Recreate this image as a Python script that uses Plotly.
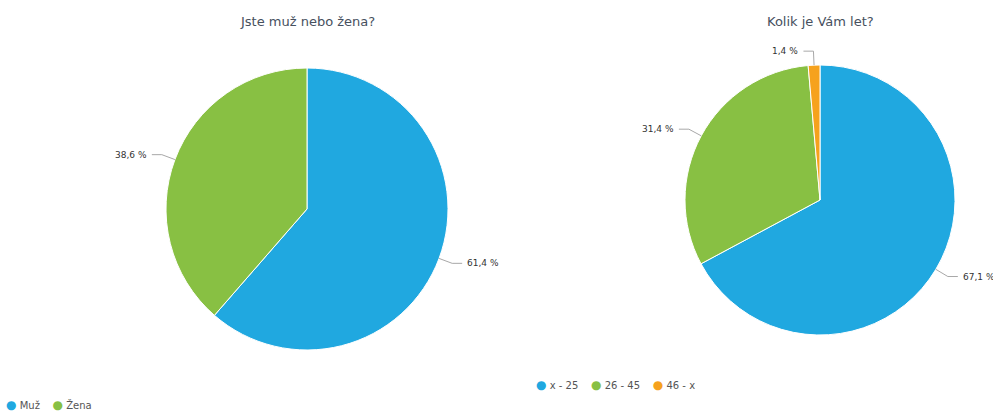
import math
import plotly.graph_objects as go

W, H = 993, 412

pie1_title = "Jste muž nebo žena?"
pie1_labels = ["Muž", "Žena"]
pie1_values = [61.4, 38.6]

pie2_title = "Kolik je Vám let?"
pie2_labels = ["x - 25", "26 - 45", "46 - x"]
pie2_values = [67.1, 31.4, 1.4]

colors1 = ["#20a8e0", "#88c043"]
colors2 = ["#20a8e0", "#88c043", "#f6a21d"]

# layout geometry in px
G1 = dict(cx=307, cy=209, r=141)
G2 = dict(cx=820, cy=200, r=135)


def domain(g):
    return dict(x=[(g["cx"] - g["r"]) / W, (g["cx"] + g["r"]) / W],
                y=[1 - (g["cy"] + g["r"]) / H, 1 - (g["cy"] - g["r"]) / H])


def px2paper(x, y):
    return x / W, 1 - y / H


fig = go.Figure()
fig.add_trace(go.Pie(labels=pie1_labels, values=pie1_values, sort=False,
                     direction="clockwise", rotation=0, domain=domain(G1),
                     marker=dict(colors=colors1, line=dict(color="white", width=1)),
                     textinfo="none", hoverinfo="label+percent", showlegend=False))
fig.add_trace(go.Pie(labels=pie2_labels, values=pie2_values, sort=False,
                     direction="clockwise", rotation=0, domain=domain(G2),
                     marker=dict(colors=colors2, line=dict(color="white", width=1)),
                     textinfo="none", hoverinfo="label+percent", showlegend=False))

shapes = []
annotations = []


def add_labels(g, values):
    total = sum(values)
    cum = 0.0
    for v in values:
        mid = (cum + v / 2) / total * 2 * math.pi
        cum += v
        dx, dy = math.sin(mid), -math.cos(mid)
        ex, ey = g["cx"] + g["r"] * dx, g["cy"] + g["r"] * dy
        bx, by = g["cx"] + (g["r"] + 14) * dx, g["cy"] + (g["r"] + 14) * dy
        side = 1 if dx >= 0 else -1
        cx_, cy_ = bx + side * 10, by
        p = [px2paper(ex, ey), px2paper(bx, by), px2paper(cx_, cy_)]
        shapes.append(dict(type="path", xref="paper", yref="paper",
                           path="M {} {} L {} {} L {} {}".format(p[0][0], p[0][1], p[1][0], p[1][1], p[2][0], p[2][1]),
                           line=dict(color="#a8a8a8", width=1)))
        tx, ty = px2paper(cx_ + side * 3, cy_)
        annotations.append(dict(x=tx, y=ty, xref="paper", yref="paper",
                                text=f"{v:.1f} %".replace(".", ","), showarrow=False,
                                xanchor="left" if side > 0 else "right", yanchor="middle",
                                font=dict(size=9, color="#333333", family="DejaVu Sans")))


add_labels(G1, pie1_values)
add_labels(G2, pie2_values)

for title, g in [(pie1_title, G1), (pie2_title, G2)]:
    annotations.append(dict(x=g["cx"] / W, y=1 - 22 / H, xref="paper", yref="paper",
                            text=title, showarrow=False, xanchor="center", yanchor="middle",
                            font=dict(size=13, color="#46505e", family="DejaVu Sans")))


def legend_text(labels, colors):
    parts = [f"<span style='color:{c};font-size:12px'>●</span> {l}" for l, c in zip(labels, colors)]
    return "\u00a0\u00a0\u00a0\u00a0".join(parts)


annotations.append(dict(x=4 / W, y=1 - 405 / H, xref="paper", yref="paper",
                        text=legend_text(pie1_labels, colors1), showarrow=False,
                        xanchor="left", yanchor="middle",
                        font=dict(size=10, color="#555555", family="DejaVu Sans")))
annotations.append(dict(x=534 / W, y=1 - 385 / H, xref="paper", yref="paper",
                        text=legend_text(pie2_labels, colors2), showarrow=False,
                        xanchor="left", yanchor="middle",
                        font=dict(size=10, color="#555555", family="DejaVu Sans")))

fig.update_layout(
    width=W, height=H,
    margin=dict(l=0, r=0, t=0, b=0),
    paper_bgcolor="white", plot_bgcolor="white",
    showlegend=False,
    shapes=shapes, annotations=annotations,
)

fig.write_html("out.html")
